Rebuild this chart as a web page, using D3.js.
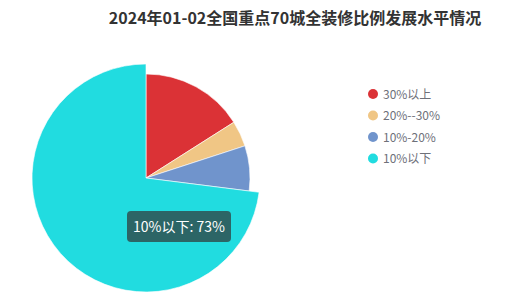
<!DOCTYPE html>
<html>
<head>
<meta charset="utf-8">
<script src="https://cdn.jsdelivr.net/npm/d3@7"></script>
<style>
  body { margin: 0; background: #fff; }
  svg { display: block; font-family: "Noto Sans CJK SC", "Noto Sans", sans-serif; }
</style>
</head>
<body>
<svg width="506" height="298"></svg>
<script>
// données du graphique
const categories = ["30%以上", "20%--30%", "10%-20%", "10%以下"];
const values = [16, 4, 7, 73];
const colors = ["#db3236", "#f0c685", "#7094cc", "#21dce0"];
const highlighted = "10%以下";

const WIDTH = 506, HEIGHT = 298;
const cx = 146, cy = 178;
const radius = 104;

const svg = d3.select("svg");

// titre
svg.append("text")
  .attr("x", 295).attr("y", 24)
  .attr("text-anchor", "middle")
  .style("font-size", "16px")
  .style("font-weight", "bold")
  .style("fill", "#333")
  .text("2024年01-02全国重点70城全装修比例发展水平情况");

const data = categories.map((c, i) => ({ name: c, value: values[i] }));
const color = d3.scaleOrdinal().domain(categories).range(colors);

const pie = d3.pie().sort(null).value(d => d.value);
const arcs = pie(data);
const arc = d3.arc().innerRadius(0).outerRadius(radius);
const arcBig = d3.arc().innerRadius(0).outerRadius(radius + 10);

const g = svg.append("g").attr("transform", `translate(${cx},${cy})`);
g.selectAll("path")
  .data(arcs)
  .enter()
  .append("path")
  .attr("d", d => d.data.name === highlighted ? arcBig(d) : arc(d))
  .attr("fill", d => color(d.data.name))
  .attr("stroke", "#fff")
  .attr("stroke-width", 0.6);

// légende
const legend = svg.append("g").attr("transform", "translate(373,94)");
const item = legend.selectAll("g")
  .data(categories)
  .enter()
  .append("g")
  .attr("transform", (d, i) => `translate(0,${i * 21.5})`);
item.append("circle").attr("r", 5).attr("fill", d => color(d));
item.append("text")
  .attr("x", 10).attr("y", 4.5)
  .style("font-size", "12px")
  .style("fill", "#6e7079")
  .text(d => d);

// infobulle
const hi = arcs.find(d => d.data.name === highlighted);
const tip = svg.append("g").attr("transform", "translate(127,211)");
tip.append("rect")
  .attr("width", 104).attr("height", 31).attr("rx", 4)
  .attr("fill", "rgba(50,50,50,0.7)");
tip.append("text")
  .attr("x", 52).attr("y", 21)
  .attr("text-anchor", "middle")
  .style("font-size", "14px")
  .style("fill", "#fff")
  .text(`${hi.data.name}: ${hi.data.value}%`);
</script>
</body>
</html>
